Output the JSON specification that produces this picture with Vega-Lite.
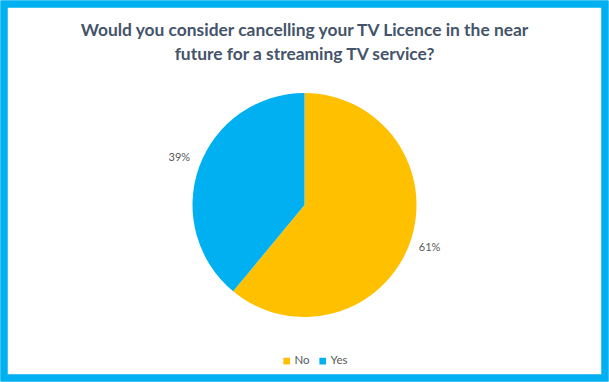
{
  "$schema": "https://vega.github.io/schema/vega-lite/v6.json",
  "width": 609,
  "height": 382,
  "autosize": {"type": "fit", "contains": "padding"},
  "padding": 0,
  "background": "white",
  "config": {
    "view": {"stroke": null},
    "font": "Lato"
  },
  "title": {
    "text": ["Would you consider cancelling your TV Licence in the near", "future for a streaming TV service?"],
    "fontSize": 17.4,
    "fontWeight": "bold",
    "color": "#44546A",
    "font": "Lato",
    "anchor": "middle",
    "frame": "group",
    "offset": -63,
    "lineHeight": 24
  },
  "data": {"values": [
    {"answer": "No", "share": 0.61},
    {"answer": "Yes", "share": 0.39}
  ]},
  "encoding": {
    "theta": {"field": "share", "type": "quantitative", "stack": true},
    "order": {"field": "answer", "type": "nominal", "sort": "ascending"}
  },
  "layer": [
    {"mark": {"type": "rect", "fill": null, "stroke": "#00B0F0", "strokeWidth": 7}, "encoding": {"theta": null, "order": null}},
    {"mark": {"type": "arc", "outerRadius": 112, "yOffset": 14},
     "encoding": {
      "color": {
        "field": "answer", "type": "nominal",
        "scale": {"domain": ["No", "Yes"], "range": ["#FFC000", "#00B0F0"]},
        "legend": {
          "title": null, "orient": "none", "direction": "horizontal",
          "legendX": 277, "legendY": 351,
          "symbolType": "square", "symbolSize": 45, "symbolStrokeWidth": 0,
          "labelFontSize": 11.5, "labelColor": "#595959", "labelFont": "Lato",
          "columnPadding": 7, "labelOffset": 2
        }
      }
     }},
    {"mark": {"type": "text", "radius": 133, "yOffset": 12, "fontSize": 11, "fill": "#595959", "font": "Lato"},
     "encoding": {"text": {"field": "share", "type": "quantitative", "format": ".0%"}, "detail": {"field": "answer", "type": "nominal"}}}
  ]
}
